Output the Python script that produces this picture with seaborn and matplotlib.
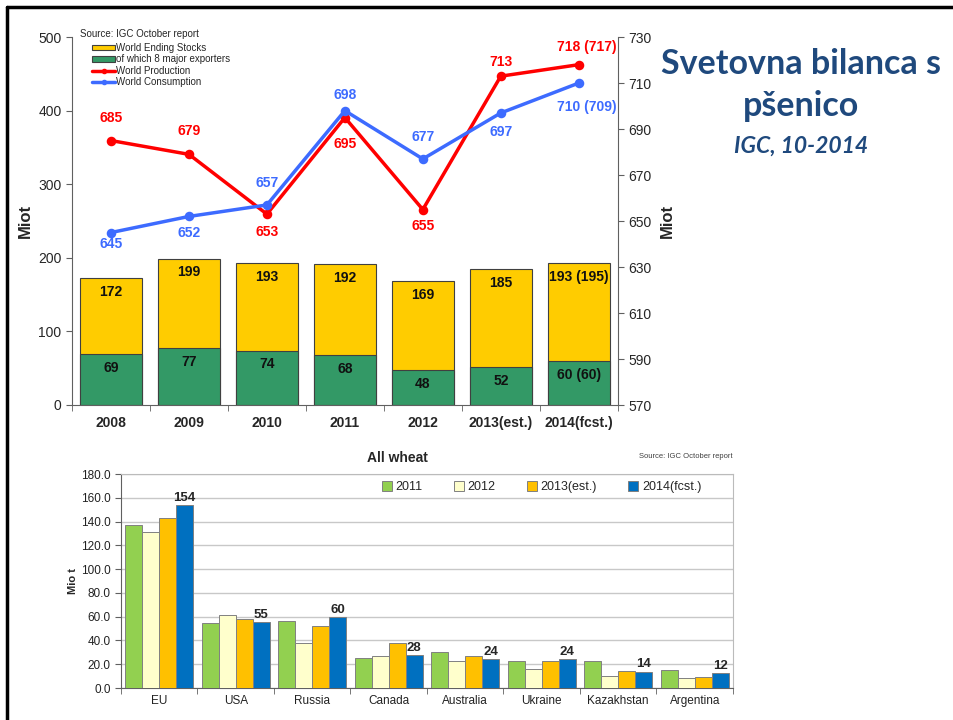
import matplotlib
matplotlib.use("Agg")
import matplotlib.pyplot as plt
import matplotlib.ticker as mticker
from matplotlib.patches import Patch
from matplotlib.lines import Line2D
import pandas as pd
import seaborn as sns

# ── Data ──────────────────────────────────────────────────────────────────────
YEARS       = ["2008", "2009", "2010", "2011", "2012", "2013(est.)", "2014(fcst.)"]
STOCKS      = [172, 199, 193, 192, 169, 185, 193]
EXPORTERS   = [69, 77, 74, 68, 48, 52, 60]
STOCK_LBL   = ["172", "199", "193", "192", "169", "185", "193 (195)"]
EXP_LBL     = ["69", "77", "74", "68", "48", "52", "60 (60)"]
PRODUCTION  = [685, 679, 653, 695, 655, 713, 718]
CONSUMPTION = [645, 652, 657, 698, 677, 697, 710]
PROD_LBL    = ["685", "679", "653", "695", "655", "713", "718 (717)"]
CONS_LBL    = ["645", "652", "657", "698", "677", "697", "710 (709)"]

COUNTRIES = ["EU", "USA", "Russia", "Canada", "Australia", "Ukraine", "Kazakhstan", "Argentina"]
SEASONS   = ["2011", "2012", "2013(est.)", "2014(fcst.)"]
W2011 = [137.1, 54.7, 56.1, 25.1, 30.0, 22.6, 22.5, 14.9]
W2012 = [131.5, 61.7, 37.9, 27.2, 22.7, 15.7, 9.8, 8.2]
W2013 = [143.0, 57.8, 52.2, 37.6, 26.8, 22.5, 14.3, 9.0]
W2014 = [153.9, 55.3, 59.7, 27.8, 24.4, 24.4, 13.6, 12.3]
W2014_LBL = ["154", "55", "60", "28", "24", "24", "14", "12"]

# ── Style ─────────────────────────────────────────────────────────────────────
YELLOW = "#FFCC00"
GREEN  = "#339966"
RED    = "#FF0000"
BLUE   = "#3D6BFF"
NAVY   = "#1F497D"
PAL2   = {"2011": "#92D050", "2012": "#FFFFCC", "2013(est.)": "#FFC000", "2014(fcst.)": "#0070C0"}

sns.set_style("white")
plt.rcParams["font.family"] = ["Liberation Sans", "DejaVu Sans"]

fig = plt.figure(figsize=(9.54, 7.2), dpi=100)

# ── Top chart: stocks (bars) + production/consumption (lines) ────────────────
ax = fig.add_axes([0.0755, 0.4375, 0.572, 0.511])
sns.barplot(x=YEARS, y=STOCKS, color=YELLOW, width=0.8, edgecolor="#404040",
            linewidth=0.8, errorbar=None, saturation=1, ax=ax)
sns.barplot(x=YEARS, y=EXPORTERS, color=GREEN, width=0.8, edgecolor="#404040",
            linewidth=0.8, errorbar=None, saturation=1, ax=ax)

for cont, labels in zip(ax.containers, [STOCK_LBL, EXP_LBL]):
    for bar, lab in zip(cont, labels):
        ax.annotate(lab, (bar.get_x() + bar.get_width() / 2, bar.get_height()),
                    xytext=(0, -10), textcoords="offset points",
                    ha="center", va="center", fontsize=10, fontweight="bold",
                    color="#111111")

ax.set_ylim(0, 500)
ax.set_yticks(range(0, 501, 100))
ax.set_xlim(-0.5, 6.5)
ax.set_ylabel("Miot", fontsize=12, fontweight="bold", labelpad=4)
ax.set_xlabel("")
ax.tick_params(axis="y", labelsize=10, length=4, direction="out", left=True, color="#606060")
ax.set_xticks([i - 0.5 for i in range(8)], minor=True)
ax.tick_params(axis="x", which="major", length=0, labelsize=10, pad=8)
ax.tick_params(axis="x", which="minor", length=4, bottom=True, color="#606060")
for t in ax.get_xticklabels():
    t.set_fontweight("bold")
ax.spines[["top", "right"]].set_visible(False)
ax.spines[["left", "bottom"]].set_color("#606060")

ax2 = ax.twinx()
sns.pointplot(x=YEARS, y=PRODUCTION, color=RED, markers="o", markersize=5,
              linewidth=2.5, errorbar=None, ax=ax2)
sns.pointplot(x=YEARS, y=CONSUMPTION, color=BLUE, markers="o", markersize=5,
              linewidth=2.5, errorbar=None, ax=ax2)
ax2.set_ylim(570, 730)
ax2.set_yticks(range(570, 731, 20))
ax2.set_xlim(-0.5, 6.5)
ax2.set_ylabel("Miot", fontsize=12, fontweight="bold", labelpad=6)
ax2.tick_params(axis="y", labelsize=10, length=4, direction="out", right=True, color="#606060")
ax2.spines[["top", "left", "bottom"]].set_visible(False)
ax2.spines["right"].set_color("#606060")

prod_dy = [16, 17, -13, -19, -12, 10, 13]
cons_dy = [-8, -12, 16, 11, 16, -14, -17]
dx = [0, 0, 0, 0, 0, 0, 6]
for i in range(len(YEARS)):
    ax2.annotate(PROD_LBL[i], (i, PRODUCTION[i]), xytext=(dx[i], prod_dy[i]),
                 textcoords="offset points", ha="center", va="center",
                 fontsize=10, fontweight="bold", color=RED)
    ax2.annotate(CONS_LBL[i], (i, CONSUMPTION[i]), xytext=(dx[i], cons_dy[i]),
                 textcoords="offset points", ha="center", va="center",
                 fontsize=10, fontweight="bold", color=BLUE)

handles = [
    Patch(facecolor=YELLOW, edgecolor="#404040", linewidth=0.8),
    Patch(facecolor=GREEN, edgecolor="#404040", linewidth=0.8),
    Line2D([], [], color=RED, lw=2.5, marker="o", markersize=3),
    Line2D([], [], color=BLUE, lw=2.5, marker="o", markersize=3),
]
fig.legend(handles, ["World Ending Stocks", "of which 8 major exporters",
                     "World Production", "World Consumption"],
           loc="upper left", bbox_to_anchor=(92 / 954, 1 - 43 / 720),
           fontsize=7, frameon=False, borderpad=0, borderaxespad=0,
           handlelength=2.4, handleheight=0.5, handletextpad=0.1, labelspacing=0.15)
fig.text(80 / 954, 1 - 34 / 720, "Source: IGC October report", fontsize=7, va="center")

# ── Title ─────────────────────────────────────────────────────────────────────
fig.text(801 / 954, 1 - 64 / 720, "Svetovna bilanca s", ha="center", va="center",
         fontsize=24.5, fontweight="bold", color=NAVY, family=["Lato", "DejaVu Sans"])
fig.text(801 / 954, 1 - 106 / 720, "pšenico", ha="center", va="center",
         fontsize=24.5, fontweight="bold", color=NAVY, family=["Lato", "DejaVu Sans"])
fig.text(801 / 954, 1 - 146 / 720, "IGC, 10-2014", ha="center", va="center",
         fontsize=16.5, fontweight="bold", style="italic", color=NAVY,
         family=["Lato", "DejaVu Sans"])

# ── Bottom chart: All wheat by country ───────────────────────────────────────
df = pd.DataFrame({
    "Country": COUNTRIES * 4,
    "Season": [s for s in SEASONS for _ in COUNTRIES],
    "Value": W2011 + W2012 + W2013 + W2014,
})
ax3 = fig.add_axes([0.1268, 0.0444, 0.6415, 0.2972])
sns.barplot(data=df, x="Country", y="Value", hue="Season", palette=PAL2,
            width=0.89, edgecolor="#808080", linewidth=0.7, errorbar=None,
            saturation=1, ax=ax3, zorder=3)
ax3.bar_label(ax3.containers[3], labels=W2014_LBL, fontsize=9.5,
              fontweight="bold", padding=1)

ax3.set_ylim(0, 180)
ax3.set_yticks(range(0, 181, 20))
ax3.yaxis.set_major_formatter(mticker.FormatStrFormatter("%.1f"))
ax3.set_xlim(-0.5, 7.5)
ax3.grid(axis="y", color="#C8C8C8", linewidth=1, zorder=0)
ax3.set_axisbelow(True)
ax3.set_xlabel("")
ax3.set_ylabel("Mio t", fontsize=8, fontweight="bold", labelpad=2)
ax3.tick_params(axis="y", labelsize=8.5, length=4, left=True, color="#606060",
                labelcolor="#222222")
ax3.set_xticks([i - 0.5 for i in range(9)], minor=True)
ax3.tick_params(axis="x", which="major", length=0, labelsize=8.5, pad=5,
                labelcolor="#222222")
ax3.tick_params(axis="x", which="minor", length=4, bottom=True, color="#606060")
ax3.spines[["left", "bottom"]].set_color("#606060")
ax3.spines[["top", "right"]].set_color("#BBBBBB")

ax3.legend(loc="upper right", bbox_to_anchor=(0.967, 1.02), ncol=4, frameon=False,
           fontsize=9, handlelength=0.8, handleheight=0.8, handletextpad=0.3,
           columnspacing=2.5, title=None)
fig.text(397 / 954, 1 - 458 / 720, "All wheat", ha="center", va="center",
         fontsize=10, fontweight="bold")
fig.text(733 / 954, 1 - 457 / 720, "Source: IGC October report", ha="right",
         va="center", fontsize=5.5, color="#404040")

# ── Slide border ─────────────────────────────────────────────────────────────
fig.add_artist(Line2D([7 / 954, 7 / 954], [0, 1 - 7 / 720], color="black",
                      lw=2.5, transform=fig.transFigure))
fig.add_artist(Line2D([7 / 954, 1], [1 - 7 / 720, 1 - 7 / 720], color="black",
                      lw=2.5, transform=fig.transFigure))

fig.savefig("out.png", dpi=100)
plt.close()
